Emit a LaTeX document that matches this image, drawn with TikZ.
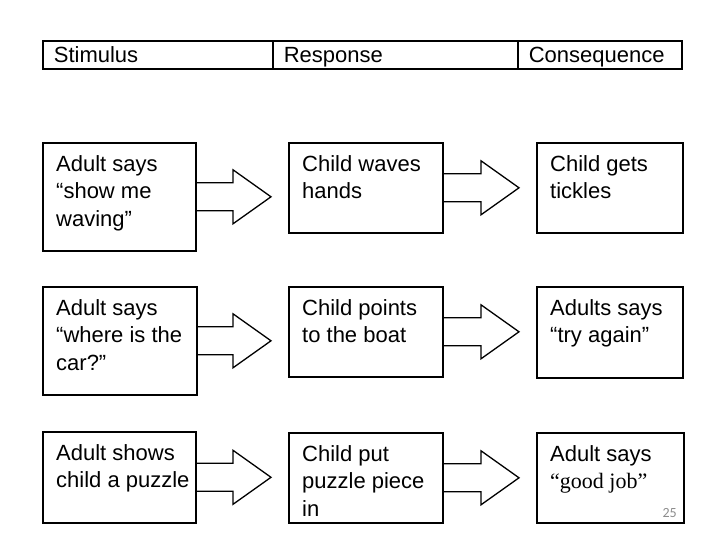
\documentclass[tikz,border=0pt]{standalone}
\usepackage{fontspec}
\setmainfont{Liberation Sans}
\newfontfamily\timesface{Liberation Serif}
\newfontfamily\slideface{Carlito}
\usetikzlibrary{calc}
\definecolor{slidegrey}{HTML}{8C8C8C}

\tikzset{
  headcell/.style={draw,line width=1.7pt,anchor=north west,minimum height=28pt,
    inner xsep=11pt,inner ysep=0pt,text height=18pt,text depth=3pt,align=left,
    font=\fontsize{22}{26}\selectfont},
  cell/.style={draw,line width=1.6pt,anchor=north west,inner sep=0pt},
  celltext/.style={anchor=north west,inner xsep=14pt,inner ysep=13pt,align=left,
    font=\fontsize{22}{27.5}\selectfont},
  flow/.style={line width=1.3pt,line join=miter}
}

\begin{document}
\begin{tikzpicture}[x=1pt,y=-1pt]
  \useasboundingbox (0,0) rectangle (720,540);
  % header row
  \node[headcell,text width=208pt] (hstim) at (42,40) {Stimulus};
  \node[headcell,text width=223pt] (hresp) at (272,40) {Response};
  \node[headcell,text width=142pt] (hcons) at (517,40) {Consequence};
  % boxes
  \node[cell,minimum width=153pt,minimum height=108pt] (s1) at (42,142) {};
  \node[cell,minimum width=154pt,minimum height=90pt] (r1) at (288,142) {};
  \node[cell,minimum width=146pt,minimum height=90pt] (c1) at (536,142) {};
  \node[cell,minimum width=154pt,minimum height=108pt] (s2) at (42,286) {};
  \node[cell,minimum width=154pt,minimum height=90pt] (r2) at (288,286) {};
  \node[cell,minimum width=146pt,minimum height=91pt] (c2) at (536,286) {};
  \node[cell,minimum width=153pt,minimum height=91pt] (s3) at (42,431) {};
  \node[cell,minimum width=154pt,minimum height=90pt] (r3) at (288,432) {};
  \node[cell,minimum width=147pt,minimum height=90pt] (c3) at (536,432) {};
  % texts
  \node[celltext] (ts1) at (s1.north west) {Adult says\\“show me\\waving”};
  \node[celltext] (tr1) at (r1.north west) {Child waves\\hands};
  \node[celltext] (tc1) at (c1.north west) {Child gets\\tickles};
  \node[celltext] (ts2) at (s2.north west) {Adult says\\“where is the\\car?”};
  \node[celltext] (tr2) at (r2.north west) {Child points\\to the boat};
  \node[celltext] (tc2) at (c2.north west) {Adults says\\“try again”};
  \node[celltext] (ts3) at (s3.north west) {Adult shows\\child a puzzle};
  \node[celltext] (tr3) at (r3.north west) {Child put\\puzzle piece\\in};
  \node[celltext] (tc3) at (c3.north west) {Adult says\\{\timesface “good job”}};
  % block arrows
  \foreach \a/\b in {s1/r1,r1/c1,s2/r2,r2/c2,s3/r3,r3/c3}
    \draw[flow] let \p1=(\a.east), \p2=(\b.west) in
      (\x1,\y1+14pt) -- (\x2-55pt,\y1+14pt) -- (\x2-55pt,\y1+27pt) -- (\x2-17pt,\y1)
      -- (\x2-55pt,\y1-27pt) -- (\x2-55pt,\y1-14pt) -- (\x1,\y1-14pt);
  \node[anchor=south east,inner sep=0pt,text=slidegrey,font=\slideface\fontsize{14}{16}\selectfont] (pg) at (677,518) {25};
\end{tikzpicture}
\end{document}
